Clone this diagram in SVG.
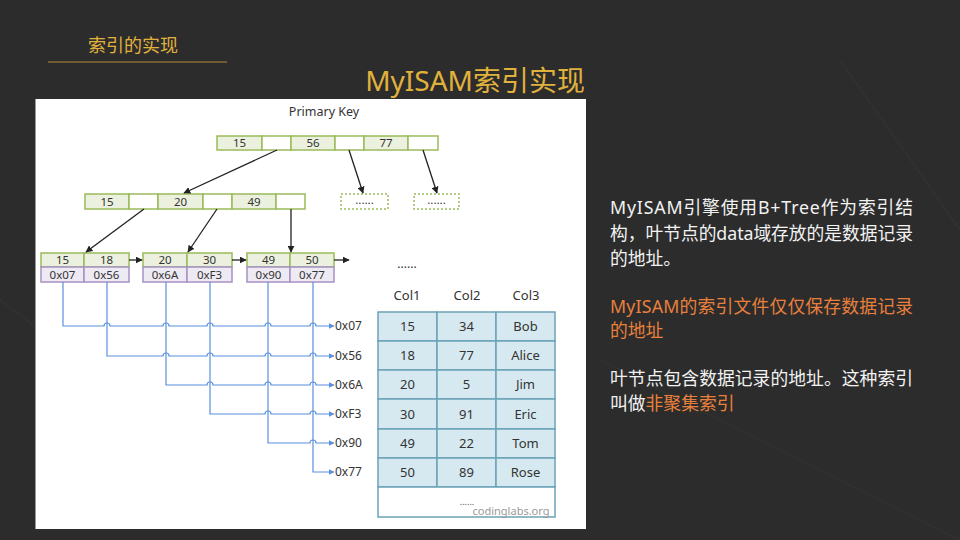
<svg xmlns="http://www.w3.org/2000/svg" width="960" height="540" viewBox="0 0 960 540">
  <defs>
    <style>
      .head { font-family: "Noto Sans", "Noto Sans CJK SC", sans-serif; fill: #e0b23c; }
      .body { font-family: "Noto Sans", "Noto Sans CJK SC", sans-serif; font-size: 17.8px; fill: #f2f2f2; }
      .hl { fill: #e8803c; }
      .t { font-family: "Noto Sans", "Open Sans", sans-serif; font-size: 11.5px; fill: #333; text-anchor: middle; }
      .tc { font-family: "Noto Sans", "Open Sans", sans-serif; font-size: 13px; fill: #333; text-anchor: middle; }
      .key { fill: #ebf1de; stroke: #9bbb59; stroke-width: 1.5; }
      .ptr { fill: #ffffff; stroke: #9bbb59; stroke-width: 1.5; }
      .addr { fill: #eeeaf3; stroke: #a791c4; stroke-width: 1.5; }
      .stub { fill: #ffffff; stroke: #9bbb59; stroke-width: 1.5; stroke-dasharray: 2 2; }
      .cell { fill: #d7e9f0; stroke: #6ba3b6; stroke-width: 1.5; }
      .arrow { fill: none; stroke: #222; stroke-width: 1.3; marker-end: url(#ah); }
      .blue { fill: none; stroke: #5b8fe0; stroke-width: 1.2; }
    </style>
    <marker id="ah" viewBox="0 0 10 10" refX="9" refY="5" markerWidth="7" markerHeight="7" markerUnits="userSpaceOnUse" orient="auto">
      <path d="M0,0 L10,5 L0,10 z" fill="#222"/>
    </marker>
    <marker id="bh" viewBox="0 0 10 10" refX="9" refY="5" markerWidth="6" markerHeight="6" markerUnits="userSpaceOnUse" orient="auto">
      <path d="M0,0 L10,5 L0,10 z" fill="#5b8fe0"/>
    </marker>
  </defs>

  <!-- slide background -->
  <rect width="960" height="540" fill="#2c2c2c"/>
  <g stroke="#ffffff" stroke-opacity="0.025" stroke-width="2" fill="none">
    <path d="M0,300 L40,330"/>
    <path d="M840,60 L960,230"/>
    <path d="M600,360 L960,540"/>
  </g>

  <!-- section heading -->
  <text class="head" x="88" y="52" font-size="18">索引的实现</text>
  <line x1="48" y1="62" x2="227" y2="62" stroke="#b38e3c" stroke-width="1"/>
  <text class="head" x="585" y="91" font-size="28" text-anchor="end">MyISAM索引实现</text>

  <!-- figure panel -->
  <rect x="35" y="99" width="551" height="430" fill="#ffffff"/>
  <line x1="35.5" y1="99" x2="35.5" y2="529" stroke="#9a9a9a" stroke-width="1"/>

  <text x="324" y="116" font-family="Noto Sans, Open Sans, sans-serif" font-size="12.5" fill="#333" text-anchor="middle">Primary Key</text>

  <!-- root node -->
  <g id="root">
    <rect class="key" x="217" y="136" width="45" height="14"/>
    <rect class="ptr" x="262" y="136" width="29" height="14"/>
    <rect class="key" x="291" y="136" width="44" height="14"/>
    <rect class="ptr" x="335" y="136" width="29" height="14"/>
    <rect class="key" x="364" y="136" width="44" height="14"/>
    <rect class="ptr" x="408" y="136" width="30" height="14"/>
    <text class="t" x="239.5" y="147">15</text>
    <text class="t" x="313" y="147">56</text>
    <text class="t" x="386" y="147">77</text>
  </g>

  <!-- inner node -->
  <g id="inner">
    <rect class="key" x="85" y="194" width="44" height="15"/>
    <rect class="ptr" x="129" y="194" width="29" height="15"/>
    <rect class="key" x="158" y="194" width="45" height="15"/>
    <rect class="ptr" x="203" y="194" width="29" height="15"/>
    <rect class="key" x="232" y="194" width="44" height="15"/>
    <rect class="ptr" x="276" y="194" width="29" height="15"/>
    <text class="t" x="107" y="205.5">15</text>
    <text class="t" x="180.5" y="205.5">20</text>
    <text class="t" x="254" y="205.5">49</text>
  </g>

  <!-- collapsed sibling subtrees -->
  <g id="stub1">
    <rect class="stub" x="341" y="194" width="47" height="15"/>
    <text class="t" x="364.5" y="204" font-size="9" fill="#666">......</text>
  </g>
  <g id="stub2">
    <rect class="stub" x="414" y="194" width="45" height="15"/>
    <text class="t" x="436.5" y="204" font-size="9" fill="#666">......</text>
  </g>

  <!-- leaf nodes -->
  <g id="leaf1">
    <rect class="key" x="41" y="253" width="43" height="14"/>
    <rect class="key" x="84" y="253" width="45" height="14"/>
    <rect class="addr" x="41" y="267" width="43" height="15"/>
    <rect class="addr" x="84" y="267" width="45" height="15"/>
    <text class="t" x="62.5" y="264">15</text>
    <text class="t" x="106.5" y="264">18</text>
    <text class="t" x="62.5" y="278.5">0x07</text>
    <text class="t" x="106.5" y="278.5">0x56</text>
  </g>
  <g id="leaf2">
    <rect class="key" x="143" y="253" width="44" height="14"/>
    <rect class="key" x="187" y="253" width="45" height="14"/>
    <rect class="addr" x="143" y="267" width="44" height="15"/>
    <rect class="addr" x="187" y="267" width="45" height="15"/>
    <text class="t" x="165" y="264">20</text>
    <text class="t" x="209.5" y="264">30</text>
    <text class="t" x="165" y="278.5">0x6A</text>
    <text class="t" x="209.5" y="278.5">0xF3</text>
  </g>
  <g id="leaf3">
    <rect class="key" x="247" y="253" width="43" height="14"/>
    <rect class="key" x="290" y="253" width="44" height="14"/>
    <rect class="addr" x="247" y="267" width="43" height="15"/>
    <rect class="addr" x="290" y="267" width="44" height="15"/>
    <text class="t" x="268.5" y="264">49</text>
    <text class="t" x="312" y="264">50</text>
    <text class="t" x="268.5" y="278.5">0x90</text>
    <text class="t" x="312" y="278.5">0x77</text>
  </g>

  <text x="407" y="268" font-family="Noto Sans, sans-serif" font-size="12" fill="#333" text-anchor="middle">......</text>

  <!-- data file -->
  <g id="datafile">
    <text class="tc" x="407" y="300">Col1</text>
    <text class="tc" x="467" y="300">Col2</text>
    <text class="tc" x="526" y="300">Col3</text>
    <g>
      <rect class="cell" x="378" y="312" width="59" height="29"/>
      <rect class="cell" x="437" y="312" width="59" height="29"/>
      <rect class="cell" x="496" y="312" width="59" height="29"/>
      <rect class="cell" x="378" y="341" width="59" height="29"/>
      <rect class="cell" x="437" y="341" width="59" height="29"/>
      <rect class="cell" x="496" y="341" width="59" height="29"/>
      <rect class="cell" x="378" y="370" width="59" height="29"/>
      <rect class="cell" x="437" y="370" width="59" height="29"/>
      <rect class="cell" x="496" y="370" width="59" height="29"/>
      <rect class="cell" x="378" y="399" width="59" height="30"/>
      <rect class="cell" x="437" y="399" width="59" height="30"/>
      <rect class="cell" x="496" y="399" width="59" height="30"/>
      <rect class="cell" x="378" y="429" width="59" height="29"/>
      <rect class="cell" x="437" y="429" width="59" height="29"/>
      <rect class="cell" x="496" y="429" width="59" height="29"/>
      <rect class="cell" x="378" y="458" width="59" height="29"/>
      <rect class="cell" x="437" y="458" width="59" height="29"/>
      <rect class="cell" x="496" y="458" width="59" height="29"/>
      <rect x="378" y="487" width="177" height="30" fill="#ffffff" stroke="#6ba3b6" stroke-width="1.5"/>
    </g>
    <g>
      <text class="tc" x="407.5" y="331">15</text><text class="tc" x="466.5" y="331">34</text><text class="tc" x="525.5" y="331">Bob</text>
      <text class="tc" x="407.5" y="360">18</text><text class="tc" x="466.5" y="360">77</text><text class="tc" x="525.5" y="360">Alice</text>
      <text class="tc" x="407.5" y="389">20</text><text class="tc" x="466.5" y="389">5</text><text class="tc" x="525.5" y="389">Jim</text>
      <text class="tc" x="407.5" y="418.5">30</text><text class="tc" x="466.5" y="418.5">91</text><text class="tc" x="525.5" y="418.5">Eric</text>
      <text class="tc" x="407.5" y="448">49</text><text class="tc" x="466.5" y="448">22</text><text class="tc" x="525.5" y="448">Tom</text>
      <text class="tc" x="407.5" y="477">50</text><text class="tc" x="466.5" y="477">89</text><text class="tc" x="525.5" y="477">Rose</text>
      <text x="467" y="505" font-family="Noto Sans, sans-serif" font-size="9" fill="#555" text-anchor="middle">......</text>
      <text x="511" y="515" font-family="Noto Sans, sans-serif" font-size="11" fill="#9a9a9a" text-anchor="middle">codinglabs.org</text>
    </g>
  </g>

  <!-- record addresses -->
  <g id="addresses" font-family="Noto Sans, sans-serif" font-size="12" fill="#333">
    <text x="335" y="330">0x07</text>
    <text x="335" y="360">0x56</text>
    <text x="335" y="389">0x6A</text>
    <text x="335" y="418">0xF3</text>
    <text x="335" y="447">0x90</text>
    <text x="335" y="476">0x77</text>
  </g>

  <!-- connectors -->
  <g id="connectors">
    <path class="arrow" d="M277,150 L184,193"/>
    <path class="arrow" d="M349,150 L363,193"/>
    <path class="arrow" d="M423,150 L437,193"/>
    <path class="arrow" d="M144,209 L86,252"/>
    <path class="arrow" d="M217,209 L188,252"/>
    <path class="arrow" d="M291,209 L291,252"/>
    <path class="arrow" d="M129,260 L142,260"/>
    <path class="arrow" d="M232,260 L246,260"/>
    <path class="arrow" d="M334,260 L349,260"/>

    <path class="blue" marker-end="url(#bh)" d="M63,282 V326 H104 a3,3 0 0 1 6,0 H163 a3,3 0 0 1 6,0 H207 a3,3 0 0 1 6,0 H265 a3,3 0 0 1 6,0 H310 a3,3 0 0 1 6,0 H334"/>
    <path class="blue" marker-end="url(#bh)" d="M107,282 V356 H163 a3,3 0 0 1 6,0 H207 a3,3 0 0 1 6,0 H265 a3,3 0 0 1 6,0 H310 a3,3 0 0 1 6,0 H334"/>
    <path class="blue" marker-end="url(#bh)" d="M166,282 V385 H207 a3,3 0 0 1 6,0 H265 a3,3 0 0 1 6,0 H310 a3,3 0 0 1 6,0 H334"/>
    <path class="blue" marker-end="url(#bh)" d="M210,282 V414 H265 a3,3 0 0 1 6,0 H310 a3,3 0 0 1 6,0 H334"/>
    <path class="blue" marker-end="url(#bh)" d="M268,282 V443 H310 a3,3 0 0 1 6,0 H334"/>
    <path class="blue" marker-end="url(#bh)" d="M313,282 V472 H334"/>
  </g>

  <!-- notes -->
  <g id="notes" class="body">
    <text x="610" y="214" textLength="303" lengthAdjust="spacing">MyISAM引擎使用B+Tree作为索引结</text>
    <text x="610" y="240" textLength="303" lengthAdjust="spacing">构，叶节点的data域存放的是数据记录</text>
    <text x="610" y="265">的地址。</text>
    <text x="610" y="313" class="hl" textLength="303" lengthAdjust="spacing">MyISAM的索引文件仅仅保存数据记录</text>
    <text x="610" y="337" class="hl">的地址</text>
    <text x="610" y="385" textLength="303" lengthAdjust="spacing">叶节点包含数据记录的地址。这种索引</text>
    <text x="610" y="410">叫做<tspan class="hl">非聚集索引</tspan></text>
  </g>
</svg>
